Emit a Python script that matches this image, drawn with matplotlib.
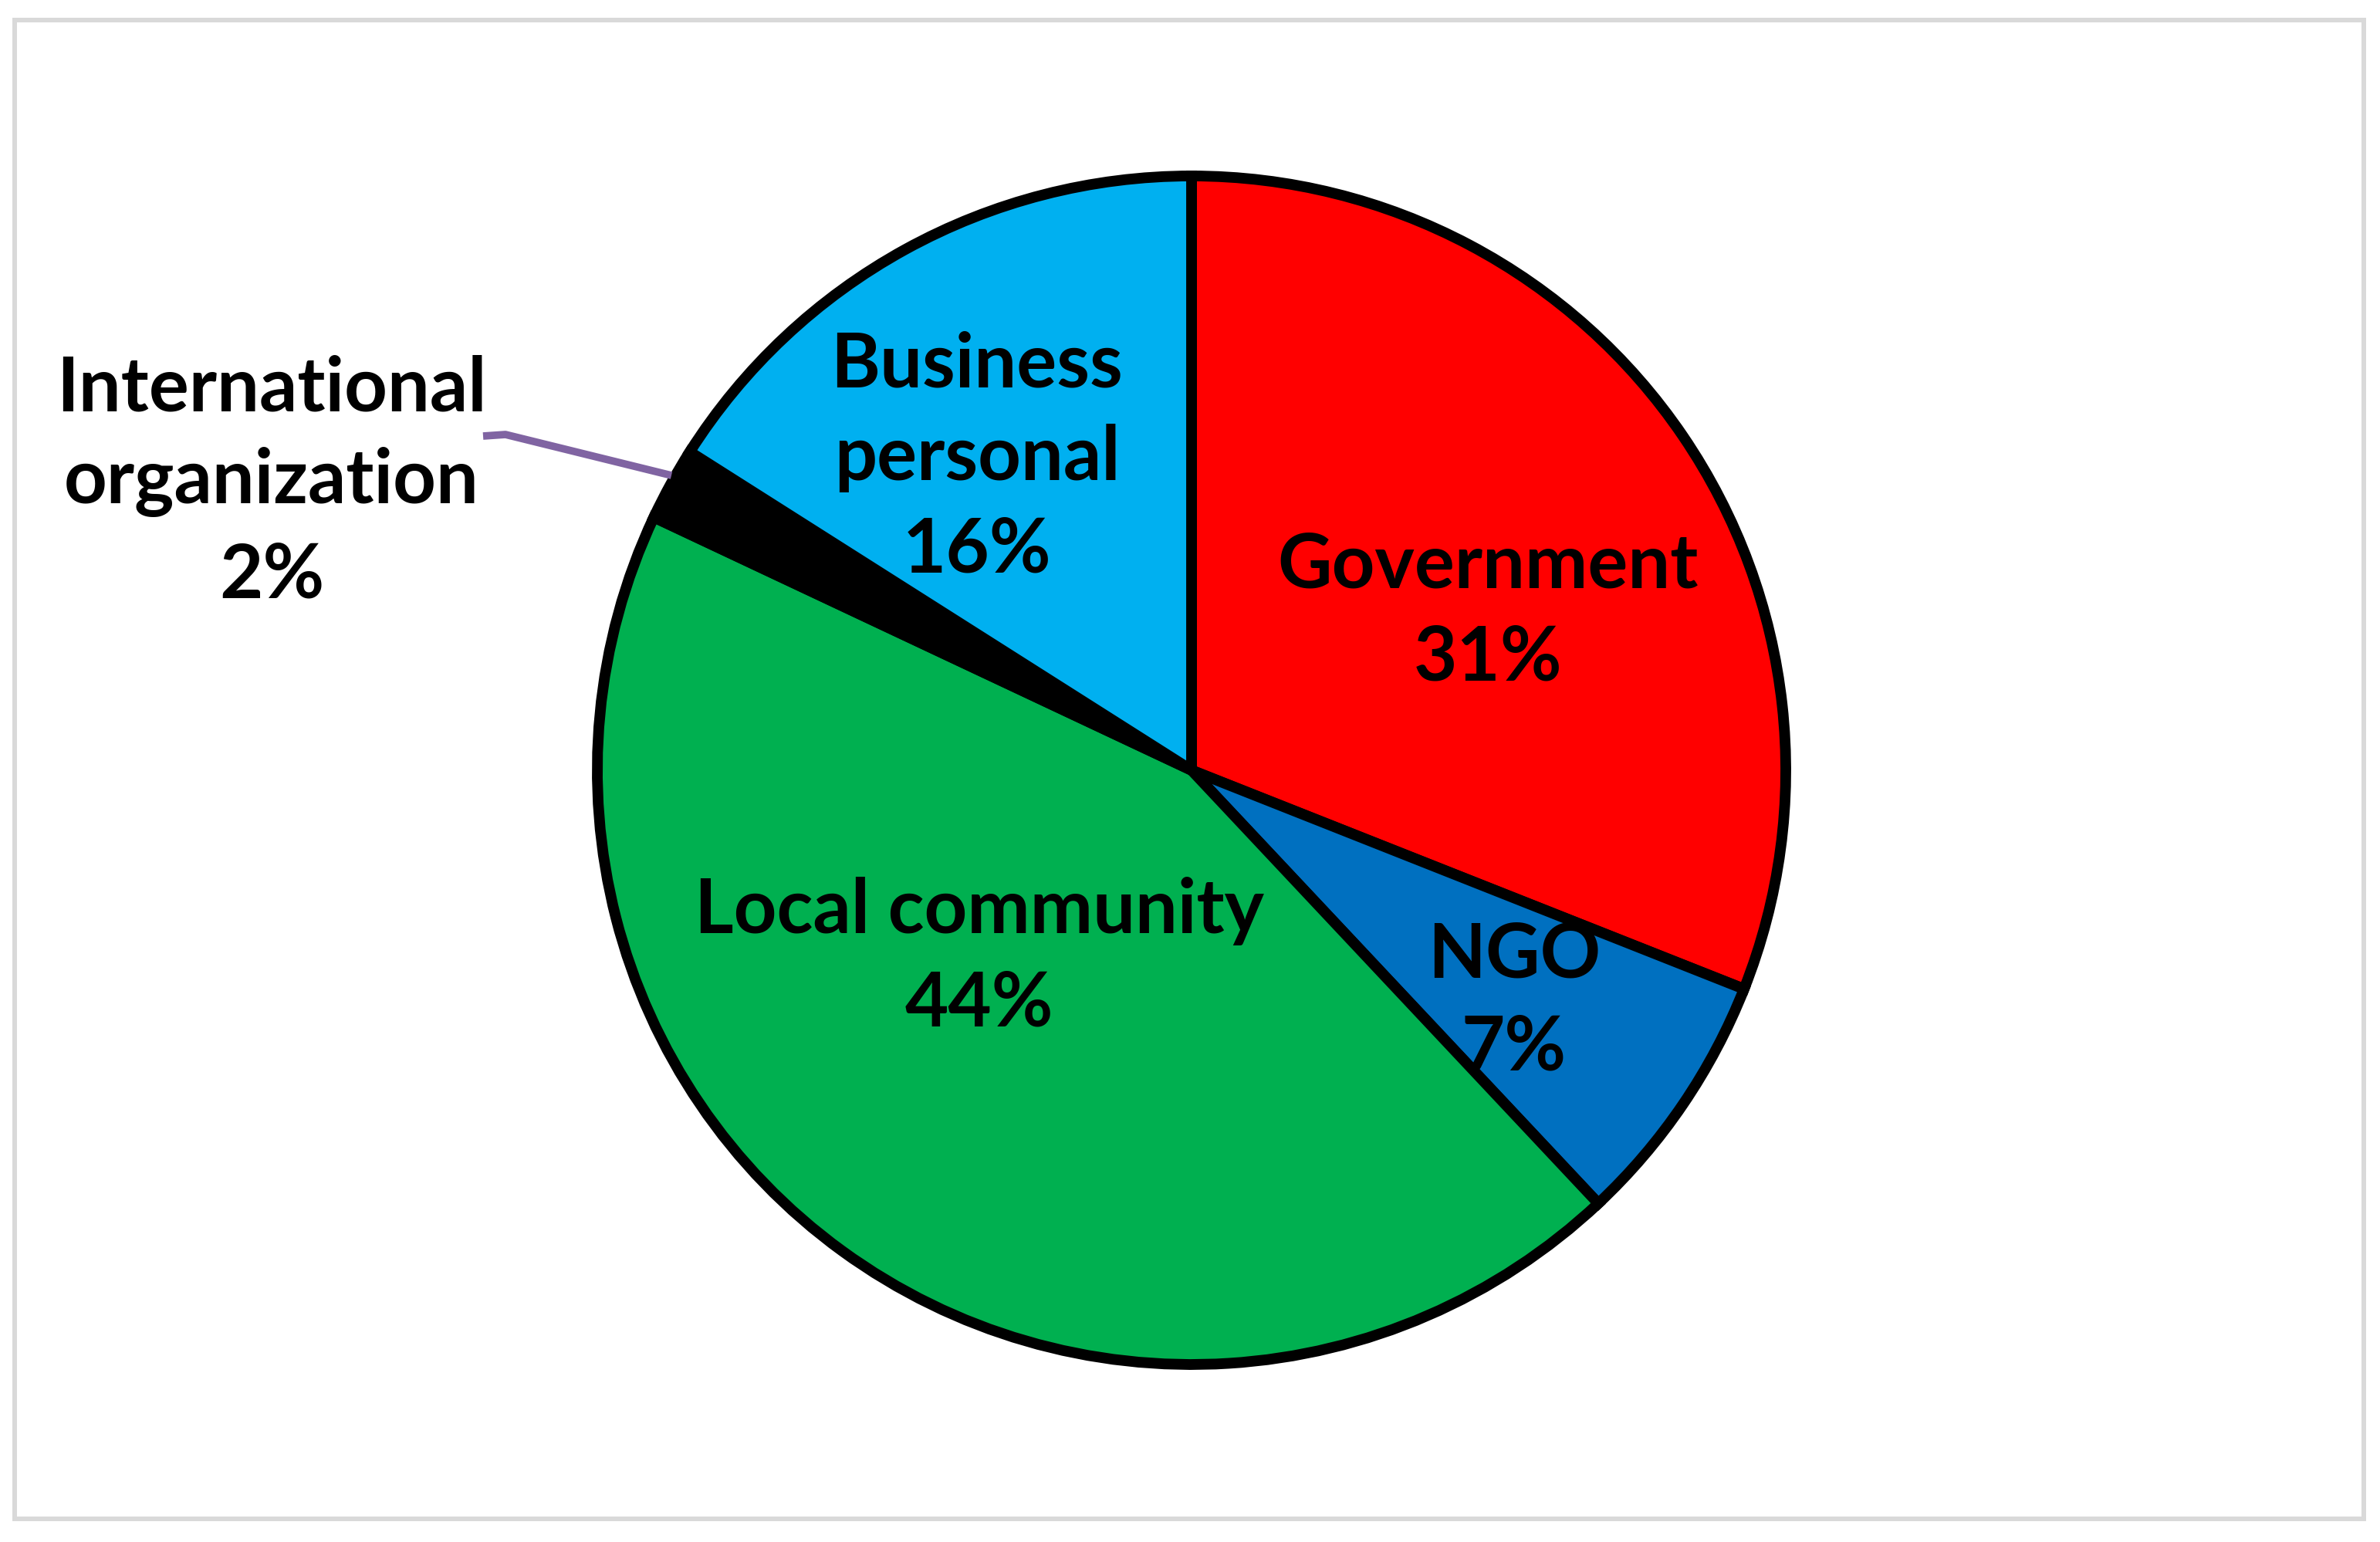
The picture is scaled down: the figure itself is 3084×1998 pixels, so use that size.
import matplotlib.pyplot as plt
from matplotlib.patches import Rectangle

labels = ["Government", "NGO", "Local community", "International\norganization", "Business\npersonal"]
shares = [31, 7, 44, 2, 16]
colors = ["#FF0000", "#0070C0", "#00B050", "#000000", "#00B0F0"]

# label anchor points in pixel coords (y measured from the bottom)
label_xy = [(1928, 1205), (1962, 700), (1269, 757), (352, 1373), (1266, 1405)]

W, H = 3084, 1998
fig = plt.figure(figsize=(W / 100, H / 100), dpi=100)
ax = fig.add_axes([0, 0, 1, 1])

# outer chart border
ax.add_patch(Rectangle((19, 30), 3044, 1942, fill=False, edgecolor="#d9d9d9", linewidth=4.3))

ax.pie(shares, colors=colors, startangle=90, counterclock=False,
       center=(1544, 1000), radius=770,
       wedgeprops=dict(edgecolor="black", linewidth=10), frame=True)
ax.set_xlim(0, W)
ax.set_ylim(0, H)
ax.set_aspect("equal")
ax.axis("off")

for lab, val, (x, y) in zip(labels, shares, label_xy):
    ax.text(x, y, f"{lab}\n{val}%", ha="center", va="center",
            fontsize=70, fontweight="bold", family="Lato",
            linespacing=1.43, color="black")

# leader line for the small slice
ax.plot([626, 655, 870], [1433, 1435, 1382], color="#8064A2", linewidth=7, solid_capstyle="butt")

fig.savefig("out.png", dpi=100)
